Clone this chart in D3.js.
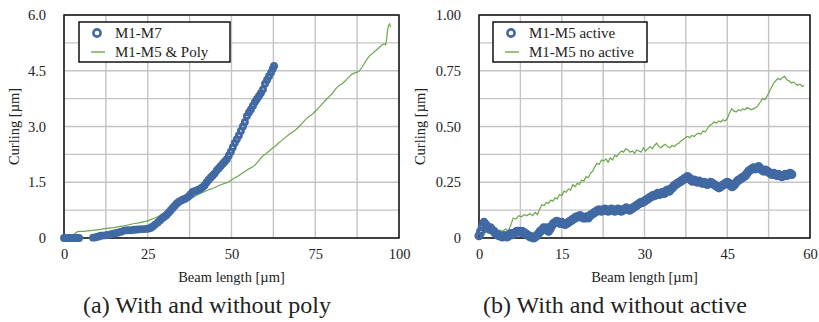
<!DOCTYPE html>
<html>
<head>
    <script src="https://d3js.org/d3.v7.min.js"></script>
</head>
<body style="margin:0; background:#fff">
    <svg width="819" height="322"></svg>
    <script>
        // (a) With and without poly  [x µm, curling µm]
        const m1m7 = [[0,0],[0.5,0],[1,0],[1.5,0],[2,0],[2.5,0],[3,0],[3.5,0],[4,0],[4.5,0],
            [8.7,0.01],[9.5,0.02],[10.3,0.04],[11,0.06],[12,0.07],[13,0.08],[14,0.1],[15,0.12],[16,0.14],[17,0.17],
            [18,0.2],[19,0.21],[20,0.21],[21,0.22],[22,0.23],[23,0.24],[24,0.24],[25,0.25],[25.8,0.27],[26.5,0.31],
            [27.2,0.36],[28,0.42],[28.7,0.48],[29.4,0.54],[30,0.58],[30.6,0.62],[31.2,0.68],[31.8,0.74],[32.4,0.8],[33,0.86],
            [33.6,0.92],[34.2,0.97],[34.8,1.0],[35.4,1.03],[36,1.05],[36.6,1.08],[37.2,1.12],[37.8,1.18],[38.4,1.24],[39,1.26],
            [39.6,1.28],[40.2,1.3],[40.8,1.33],[41.4,1.37],[42,1.42],[42.6,1.5],[43.2,1.57],[43.8,1.63],[44.4,1.68],[45,1.74],
            [45.6,1.82],[46.2,1.88],[46.8,1.94],[47.4,2.0],[48,2.06],[48.6,2.12],[49.2,2.22],[49.8,2.32],[50.4,2.44],[51,2.56],
            [51.6,2.66],[52.2,2.76],[52.8,2.88],[53.4,3.0],[54,3.12],[54.6,3.28],[55.2,3.38],[55.8,3.46],[56.4,3.56],[57,3.66],
            [57.6,3.74],[58.2,3.82],[58.8,3.9],[59.4,4.0],[60,4.15],[60.6,4.25],[61.2,4.35],[61.8,4.45],[62.3,4.55],[62.7,4.63]];

        const m1m5Poly = [[2.2,0],[2.8,0.06],[3.3,0.12],[4,0.17],[5,0.18],[6,0.18],[7,0.19],[8,0.2],[9,0.21],[10,0.22],
            [11,0.23],[12,0.25],[13,0.26],[14,0.27],[15,0.28],[16,0.3],[17,0.32],[18,0.33],[19,0.35],[20,0.37],
            [21,0.39],[22,0.4],[23,0.42],[24,0.44],[25,0.46],[26,0.5],[27,0.53],[28,0.57],[29,0.62],[30,0.66],
            [31,0.71],[32,0.76],[33,0.82],[34,0.87],[35,0.92],[36,0.97],[37,1.02],[38,1.07],[39,1.12],[40,1.17],
            [41,1.21],[42,1.25],[43,1.29],[44,1.32],[45,1.36],[46,1.4],[47,1.44],[48,1.47],[49,1.5],[50,1.56],
            [51,1.62],[52,1.67],[53,1.73],[54,1.79],[55,1.85],[56,1.9],[57,1.96],[58,2.06],[59,2.18],[60,2.25],
            [61,2.32],[62,2.4],[63,2.47],[64,2.55],[65,2.62],[66,2.7],[67,2.77],[68,2.84],[69,2.9],[70,2.98],
            [71,3.08],[72,3.18],[73,3.26],[74,3.32],[75,3.41],[76,3.5],[77,3.6],[78,3.7],[79,3.79],[80,3.88],
            [81,4.0],[82,4.1],[83,4.15],[84,4.23],[85,4.33],[86,4.41],[87,4.45],[88,4.48],[89,4.6],[90,4.75],
            [91,4.88],[92,4.96],[93,5.04],[94,5.12],[95,5.2],[95.5,5.22],[96,5.2],[96.3,5.35],[96.6,5.6],[96.9,5.72],
            [97.2,5.76],[97.4,5.7],[97.6,5.68]];

        // (b) With and without active
        const m1m5Active = [[0,0.01],[0.3,0.03],[0.6,0.05],[0.9,0.07],[1.2,0.06],[1.5,0.05],[1.8,0.04],[2.1,0.045],[2.4,0.035],[2.7,0.03],
            [3.0,0.02],[3.3,0.015],[3.6,0.01],[3.9,0.01],[4.2,0.005],[4.5,0.01],[4.8,0.01],[5.1,0.005],[5.4,0.01],[5.7,0.02],
            [6.0,0.015],[6.3,0.02],[6.6,0.025],[6.9,0.03],[7.2,0.03],[7.5,0.025],[7.8,0.03],[8.1,0.025],[8.4,0.02],[8.7,0.015],
            [9.0,0.01],[9.3,0.005],[9.6,0.005],[9.9,0.0],[10.2,0.005],[10.5,0.01],[10.8,0.02],[11.1,0.03],[11.4,0.035],[11.7,0.045],
            [12.0,0.04],[12.3,0.045],[12.6,0.03],[12.9,0.04],[13.2,0.055],[13.5,0.065],[13.8,0.07],[14.1,0.075],[14.4,0.07],[14.7,0.065],
            [15.0,0.07],[15.3,0.065],[15.6,0.06],[15.9,0.065],[16.2,0.07],[16.5,0.075],[16.8,0.08],[17.1,0.085],[17.4,0.09],[17.7,0.095],
            [18.0,0.095],[18.3,0.1],[18.6,0.095],[18.9,0.09],[19.2,0.09],[19.5,0.095],[19.8,0.09],[20.1,0.1],[20.4,0.105],[20.7,0.11],
            [21.0,0.115],[21.3,0.12],[21.6,0.125],[21.9,0.125],[22.2,0.12],[22.5,0.125],[22.8,0.13],[23.1,0.125],[23.4,0.12],[23.7,0.125],
            [24.0,0.13],[24.3,0.125],[24.6,0.12],[24.9,0.125],[25.2,0.13],[25.5,0.125],[25.8,0.12],[26.1,0.125],[26.4,0.13],[26.7,0.135],
            [27.0,0.13],[27.3,0.125],[27.6,0.13],[27.9,0.135],[28.2,0.14],[28.5,0.145],[28.8,0.15],[29.1,0.155],[29.4,0.16],[29.7,0.16],
            [30.0,0.165],[30.3,0.17],[30.6,0.175],[30.9,0.18],[31.2,0.185],[31.5,0.19],[31.8,0.19],[32.1,0.195],[32.4,0.2],[32.7,0.195],
            [33.0,0.2],[33.3,0.205],[33.6,0.2],[33.9,0.21],[34.2,0.215],[34.5,0.21],[34.8,0.22],[35.1,0.225],[35.4,0.235],[35.7,0.24],
            [36.0,0.245],[36.3,0.25],[36.6,0.255],[36.9,0.26],[37.2,0.265],[37.5,0.27],[37.8,0.275],[38.1,0.27],[38.4,0.26],[38.7,0.255],
            [39.0,0.26],[39.3,0.255],[39.6,0.25],[39.9,0.255],[40.2,0.25],[40.5,0.245],[40.8,0.25],[41.1,0.245],[41.4,0.24],[41.7,0.245],
            [42.0,0.25],[42.3,0.245],[42.6,0.24],[42.9,0.235],[43.2,0.23],[43.5,0.225],[43.8,0.23],[44.1,0.235],[44.4,0.24],[44.7,0.245],
            [45.0,0.25],[45.3,0.245],[45.6,0.235],[45.9,0.23],[46.2,0.235],[46.5,0.245],[46.8,0.255],[47.1,0.26],[47.4,0.265],[47.7,0.27],
            [48.0,0.275],[48.3,0.28],[48.6,0.29],[48.9,0.3],[49.2,0.305],[49.5,0.31],[49.8,0.315],[50.1,0.31],[50.4,0.315],[50.7,0.32],
            [51.0,0.31],[51.3,0.305],[51.6,0.3],[51.9,0.305],[52.2,0.3],[52.5,0.295],[52.8,0.29],[53.1,0.285],[53.4,0.29],[53.7,0.285],
            [54.0,0.28],[54.3,0.285],[54.6,0.28],[54.9,0.275],[55.2,0.28],[55.5,0.285],[55.8,0.28],[56.1,0.285],[56.4,0.29],[56.7,0.285]];

        const m1m5NoActive = [[0.3,0.0],[0.8,0.01],[1.3,0.03],[1.8,0.04],[2.3,0.03],[2.8,0.04],[3.3,0.03],[3.8,0.035],[4.3,0.03],[4.8,0.04],
            [5.3,0.03],[5.8,0.06],[6.2,0.09],[6.7,0.085],[7.2,0.1],[7.7,0.095],[8.2,0.105],[8.7,0.1],[9.2,0.11],[9.7,0.1],
            [10.2,0.115],[10.6,0.105],[11.0,0.13],[11.4,0.15],[11.8,0.145],[12.2,0.16],[12.6,0.155],[13.0,0.17],[13.4,0.165],[13.8,0.18],
            [14.2,0.175],[14.6,0.195],[15.0,0.19],[15.4,0.21],[15.8,0.205],[16.2,0.22],[16.6,0.215],[17.0,0.24],[17.4,0.23],[17.8,0.245],
            [18.2,0.24],[18.6,0.26],[19.0,0.255],[19.4,0.275],[19.8,0.27],[20.2,0.29],[20.6,0.3],[21.0,0.32],[21.4,0.335],[21.8,0.33],
            [22.2,0.35],[22.6,0.345],[23.0,0.355],[23.4,0.34],[23.8,0.36],[24.2,0.35],[24.6,0.37],[25.0,0.365],[25.4,0.38],[25.8,0.39],
            [26.2,0.385],[26.6,0.4],[27.0,0.395],[27.4,0.385],[27.8,0.39],[28.2,0.38],[28.6,0.395],[29.0,0.39],[29.4,0.385],[29.8,0.405],
            [30.2,0.39],[30.6,0.4],[31.0,0.41],[31.4,0.4],[31.8,0.415],[32.2,0.425],[32.6,0.41],[33.0,0.405],[33.4,0.415],[33.8,0.42],
            [34.2,0.41],[34.6,0.405],[35.0,0.415],[35.4,0.41],[35.8,0.42],[36.2,0.425],[36.6,0.435],[37.0,0.44],[37.4,0.45],[37.8,0.455],
            [38.2,0.45],[38.6,0.46],[39.0,0.455],[39.4,0.465],[39.8,0.47],[40.2,0.465],[40.6,0.48],[41.0,0.475],[41.4,0.49],[41.8,0.505],
            [42.2,0.51],[42.6,0.52],[43.0,0.515],[43.4,0.525],[43.8,0.52],[44.2,0.53],[44.6,0.525],[45.0,0.535],[45.4,0.56],[45.8,0.58],
            [46.2,0.57],[46.6,0.565],[47.0,0.575],[47.4,0.57],[47.8,0.58],[48.2,0.575],[48.6,0.585],[49.0,0.58],[49.4,0.575],[49.8,0.58],
            [50.2,0.585],[50.6,0.595],[51.0,0.61],[51.4,0.625],[51.8,0.62],[52.2,0.635],[52.6,0.655],[53.0,0.675],[53.4,0.695],[53.8,0.705],
            [54.2,0.715],[54.6,0.71],[55.0,0.72],[55.4,0.725],[55.8,0.71],[56.2,0.705],[56.6,0.695],[57.0,0.7],[57.4,0.69],[57.8,0.685],
            [58.2,0.69],[58.6,0.68],[58.9,0.685]];

        const xTicksA = [0, 25, 50, 75, 100];
        const yTicksA = [0, 1.5, 3.0, 4.5, 6.0];
        const xTicksB = [0, 15, 30, 45, 60];
        const yTicksB = [0, 0.25, 0.5, 0.75, 1.0];

        const blue = "#4169a3", green = "#6aa84a";
        const serif = "'Liberation Serif'";
        const svg = d3.select("svg");

        function panel(cfg) {
            const x = d3.scaleLinear().domain(cfg.xDomain).range([cfg.left, cfg.right]);
            const y = d3.scaleLinear().domain(cfg.yDomain).range([238, 15]);
            const g = svg.append("g");

            // grid, half steps between labelled ticks
            const xStep = cfg.xTicks[1] / 2, yStep = cfg.yTicks[1] / 2;
            const xGrid = d3.range(cfg.xDomain[0], cfg.xDomain[1] + 1e-9, xStep);
            const yGrid = d3.range(cfg.yDomain[0], cfg.yDomain[1] + 1e-9, yStep);
            g.selectAll(".gx").data(xGrid).join("line")
                .attr("x1", d => x(d)).attr("x2", d => x(d))
                .attr("y1", y.range()[0]).attr("y2", y.range()[1])
                .attr("stroke", "#c4c4c4").attr("stroke-width", 1.4);
            g.selectAll(".gy").data(yGrid).join("line")
                .attr("y1", d => y(d)).attr("y2", d => y(d))
                .attr("x1", cfg.left).attr("x2", cfg.right)
                .attr("stroke", "#c4c4c4").attr("stroke-width", 1.4);

            g.append("rect")
                .attr("x", cfg.left).attr("y", 15)
                .attr("width", cfg.right - cfg.left).attr("height", 223)
                .attr("fill", "none").attr("stroke", "#111").attr("stroke-width", 1.5);

            // axes (labels only)
            g.append("g")
                .attr("transform", "translate(0,246)")
                .call(d3.axisBottom(x).tickValues(cfg.xTicks).tickSize(0).tickFormat(d3.format("d")))
                .call(a => a.select(".domain").remove())
                .selectAll("text").attr("fill", "#222")
                .style("font-family", serif).style("font-size", "14.5px");
            g.append("g")
                .attr("transform", "translate(" + (cfg.left - 15) + ",0)")
                .call(d3.axisLeft(y).tickValues(cfg.yTicks).tickSize(0).tickFormat(d => d === 0 ? "0" : d3.format(cfg.yFmt)(d)))
                .call(a => a.select(".domain").remove())
                .selectAll("text").attr("fill", "#222")
                .style("font-family", serif).style("font-size", "14.5px");

            // data
            g.append("path")
                .datum(cfg.lineData)
                .attr("fill", "none").attr("stroke", green).attr("stroke-width", 1.2)
                .attr("d", d3.line().x(d => x(d[0])).y(d => y(d[1])));
            g.selectAll(".pt").data(cfg.pointData).join("circle")
                .attr("cx", d => x(d[0])).attr("cy", d => y(d[1])).attr("r", cfg.markR)
                .attr("fill", "none").attr("stroke", blue).attr("stroke-width", cfg.markW);

            // titles
            g.append("text")
                .attr("x", (cfg.left + cfg.right) / 2).attr("y", 282)
                .attr("text-anchor", "middle").attr("fill", "#222")
                .style("font-family", serif).style("font-size", "14.5px")
                .text("Beam length [µm]");
            g.append("text")
                .attr("transform", "translate(" + cfg.yTitleX + ",126.5) rotate(-90)")
                .attr("text-anchor", "middle").attr("dominant-baseline", "central").attr("fill", "#222")
                .style("font-family", serif).style("font-size", "14.5px")
                .text("Curling [µm]");
            g.append("text")
                .attr("x", cfg.capX).attr("y", 313)
                .attr("text-anchor", "middle").attr("fill", "#222")
                .style("font-family", serif).style("font-size", "24px")
                .text(cfg.caption);

            // legend
            const lg = g.append("g").attr("transform", "translate(" + cfg.legX + ",22)");
            lg.append("rect").attr("width", cfg.legW).attr("height", 40)
                .attr("fill", "#fff").attr("stroke", "#111").attr("stroke-width", 1.5);
            lg.append("circle").attr("cx", 18).attr("cy", 11).attr("r", 3.6)
                .attr("fill", "#fff").attr("stroke", blue).attr("stroke-width", 2.6);
            lg.append("line").attr("x1", 12).attr("x2", 26).attr("y1", 30).attr("y2", 30)
                .attr("stroke", green).attr("stroke-width", 1.4);
            lg.selectAll(".lt").data(cfg.names).join("text")
                .attr("x", 36).attr("y", (d, i) => 11 + i * 19)
                .attr("dominant-baseline", "central").attr("fill", "#222")
                .style("font-family", serif).style("font-size", "15px")
                .text(d => d);
        }

        panel({
            xDomain: [0, 100], yDomain: [0, 6], left: 64, right: 399,
            xTicks: xTicksA, yTicks: yTicksA, yFmt: ".1f",
            lineData: m1m5Poly, pointData: m1m7, markR: 2.4, markW: 3.1,
            yTitleX: 14, capX: 207, caption: "(a) With and without poly",
            legX: 79, legW: 151, names: ["M1-M7", "M1-M5 & Poly"]
        });
        panel({
            xDomain: [0, 60], yDomain: [0, 1], left: 479, right: 810,
            xTicks: xTicksB, yTicks: yTicksB, yFmt: ".2f",
            lineData: m1m5NoActive, pointData: m1m5Active, markR: 3.0, markW: 3.2,
            yTitleX: 420, capX: 615, caption: "(b) With and without active",
            legX: 493, legW: 154, names: ["M1-M5 active", "M1-M5 no active"]
        });
    </script>
</body>
</html>
